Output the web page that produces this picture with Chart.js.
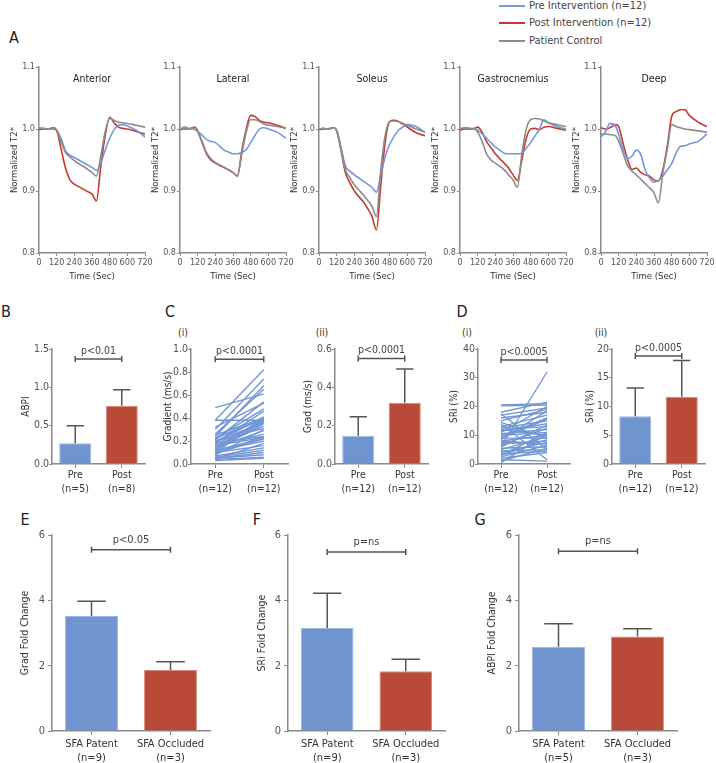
<!DOCTYPE html>
<html>
<head>
<meta charset="utf-8">
<script src="https://cdn.jsdelivr.net/npm/chart.js@4/dist/chart.umd.min.js"></script>
<style>
    body { margin: 0; width: 716px; height: 763px; background: #fff; position: relative; overflow: hidden;
           font-family: 'Liberation Sans Narrow', 'DejaVu Sans Condensed', 'Open Sans', sans-serif; color: #333; }
    canvas { position: absolute; }
    .tag { position: absolute; transform: translate(-50%, -50%); white-space: nowrap; line-height: 1; }
    .letter { font-size: 16px; color: #222; }
    .sub { font-size: 10.5px; color: #333; }
    .legend { position: absolute; left: 499px; font-size: 11px; color: #444; line-height: 1; white-space: nowrap; }
    .legend span { display: inline-block; width: 26px; height: 2px; vertical-align: middle; margin-right: 4px; }
</style>
</head>
<body>

<div class="legend" style="top:0px"><span style="background:#7398dc"></span>Pre Intervention (n=12)</div>
<div class="legend" style="top:17px"><span style="background:#c23b2e"></span>Post Intervention (n=12)</div>
<div class="legend" style="top:35px"><span style="background:#8c8c8c"></span>Patient Control</div>

<div class="tag letter" style="left:14px;top:38px">A</div>
<div class="tag letter" style="left:6px;top:312px">B</div>
<div class="tag letter" style="left:170px;top:312px">C</div>
<div class="tag letter" style="left:462px;top:312px">D</div>
<div class="tag letter" style="left:25px;top:520px">E</div>
<div class="tag letter" style="left:257px;top:520px">F</div>
<div class="tag letter" style="left:480px;top:520px">G</div>
<div class="tag sub" style="left:183px;top:332px">(i)</div>
<div class="tag sub" style="left:322px;top:332px">(ii)</div>
<div class="tag sub" style="left:467px;top:332px">(i)</div>
<div class="tag sub" style="left:601px;top:332px">(ii)</div>

<script>
const FONT = "'Liberation Sans Narrow', 'DejaVu Sans Condensed', 'Open Sans', sans-serif";

// ---- Panel A: normalized T2* time courses ----
const times = [0, 30, 60, 100, 120, 150, 180, 210, 240, 270, 300, 330, 360, 390, 420, 450, 480, 510, 540, 570, 600, 660, 720];
const muscles = ['Anterior', 'Lateral', 'Soleus', 'Gastrocnemius', 'Deep'];

const anteriorPre = [1.001, 1.001, 1.0, 1.0, 0.998, 0.985, 0.965, 0.958, 0.954, 0.950, 0.946, 0.942, 0.938, 0.933, 0.945, 0.966, 0.985, 0.999, 1.006, 1.007, 1.005, 0.998, 0.987];
const anteriorPost = [0.999, 1.0, 1.0, 1.002, 0.998, 0.968, 0.937, 0.918, 0.911, 0.907, 0.903, 0.899, 0.895, 0.884, 0.940, 0.990, 1.019, 1.010, 1.003, 1.001, 1.0, 0.996, 0.992];
const anteriorControl = [1.001, 1.001, 1.0, 1.0, 0.997, 0.980, 0.962, 0.955, 0.949, 0.944, 0.940, 0.935, 0.930, 0.924, 0.957, 0.996, 1.017, 1.014, 1.011, 1.010, 1.009, 1.006, 1.003];

const lateralPre = [1.0, 1.003, 1.001, 0.999, 0.996, 0.990, 0.983, 0.980, 0.978, 0.972, 0.966, 0.963, 0.960, 0.960, 0.962, 0.967, 0.978, 0.990, 1.0, 1.002, 1.0, 0.995, 0.985];
const lateralPost = [0.999, 1.0, 1.0, 1.003, 0.997, 0.978, 0.960, 0.950, 0.945, 0.941, 0.938, 0.934, 0.930, 0.924, 0.965, 1.0, 1.022, 1.020, 1.014, 1.011, 1.010, 1.006, 1.001];
const lateralControl = [1.0, 1.0, 1.0, 1.002, 0.996, 0.980, 0.962, 0.952, 0.946, 0.942, 0.938, 0.934, 0.930, 0.924, 0.960, 0.995, 1.015, 1.015, 1.012, 1.008, 1.006, 1.004, 1.001];

const soleusPre = [1.0, 1.001, 1.0, 1.002, 0.998, 0.970, 0.940, 0.932, 0.926, 0.921, 0.916, 0.911, 0.906, 0.898, 0.926, 0.956, 0.975, 0.988, 0.998, 1.003, 1.007, 1.004, 0.994];
const soleusPost = [0.999, 1.0, 1.0, 1.002, 0.997, 0.965, 0.929, 0.913, 0.900, 0.891, 0.883, 0.872, 0.859, 0.837, 0.910, 0.980, 1.012, 1.014, 1.012, 1.008, 1.003, 0.994, 0.989];
const soleusControl = [1.0, 1.001, 1.0, 1.002, 0.998, 0.968, 0.934, 0.921, 0.910, 0.902, 0.894, 0.885, 0.875, 0.859, 0.935, 0.990, 1.012, 1.013, 1.012, 1.009, 1.006, 1.0, 0.995];

const gastrocPre = [1.0, 1.002, 1.001, 1.0, 0.998, 0.992, 0.985, 0.978, 0.971, 0.966, 0.961, 0.960, 0.960, 0.960, 0.961, 0.969, 0.978, 0.989, 1.0, 1.015, 1.010, 1.004, 1.0];
const gastrocPost = [0.998, 1.0, 1.0, 1.001, 1.003, 0.995, 0.980, 0.970, 0.960, 0.952, 0.945, 0.937, 0.926, 0.917, 0.950, 0.985, 1.0, 1.001, 0.999, 1.003, 1.004, 1.001, 0.998];
const gastrocControl = [1.0, 1.002, 1.001, 1.0, 0.995, 0.980, 0.960, 0.950, 0.945, 0.940, 0.934, 0.926, 0.918, 0.906, 0.960, 1.0, 1.015, 1.017, 1.016, 1.013, 1.010, 1.007, 1.004];

const deepPre = [0.987, 0.995, 1.009, 1.004, 0.991, 0.968, 0.952, 0.956, 0.966, 0.959, 0.934, 0.921, 0.914, 0.917, 0.924, 0.934, 0.944, 0.961, 0.972, 0.973, 0.976, 0.980, 0.992];
const deepPost = [1.002, 1.0, 1.002, 1.007, 1.004, 0.977, 0.951, 0.935, 0.937, 0.930, 0.926, 0.924, 0.918, 0.916, 0.934, 0.972, 1.020, 1.028, 1.031, 1.031, 1.022, 1.011, 1.004];
const deepControl = [0.992, 0.992, 0.991, 0.989, 0.980, 0.961, 0.941, 0.932, 0.926, 0.919, 0.912, 0.905, 0.897, 0.881, 0.929, 0.967, 1.007, 1.004, 1.002, 1.0, 0.999, 0.997, 0.995];

// ---- Panels B-D ----
const prePostLabels5 = [['Pre', '(n=5)'], ['Post', '(n=8)']];
const prePostLabels12 = [['Pre', '(n=12)'], ['Post', '(n=12)']];
const abpiMean = [0.27, 0.76];
const abpiUpper = [0.50, 0.97];
const gradMean = [0.148, 0.32];
const gradUpper = [0.247, 0.496];
const sriMean = [8.3, 11.7];
const sriUpper = [13.2, 18.0];

const gradientPre = [0.49, 0.38, 0.38, 0.32, 0.30, 0.26, 0.25, 0.24, 0.23, 0.22, 0.21, 0.20, 0.19, 0.18, 0.17, 0.16, 0.15, 0.15, 0.14, 0.13, 0.12, 0.12, 0.11, 0.10, 0.10, 0.09, 0.08, 0.07, 0.06, 0.05, 0.05, 0.04, 0.04, 0.03, 0.18, 0.22, 0.13, 0.09, 0.16, 0.20];
const gradientPost = [0.61, 0.38, 0.82, 0.53, 0.74, 0.65, 0.40, 0.68, 0.39, 0.48, 0.54, 0.36, 0.41, 0.24, 0.37, 0.23, 0.33, 0.38, 0.29, 0.40, 0.22, 0.35, 0.20, 0.39, 0.16, 0.24, 0.30, 0.14, 0.12, 0.10, 0.08, 0.06, 0.18, 0.05, 0.46, 0.39, 0.36, 0.22, 0.26, 0.31];
const sriPre = [20.5, 20.2, 18.0, 17.5, 16.0, 15.0, 14.0, 13.0, 12.5, 12.0, 11.5, 11.0, 10.5, 10.0, 9.5, 9.0, 8.5, 8.0, 7.5, 7.0, 6.5, 6.0, 5.5, 5.0, 4.5, 4.0, 3.5, 3.0, 2.5, 2.0, 1.5, 1.0, 0.5, 12.0, 9.0, 6.0, 14.5, 17.0, 3.0, 8.0];
const sriPost = [21.0, 20.5, 21.5, 5.0, 18.0, 19.0, 1.5, 17.0, 15.0, 13.0, 14.0, 20.0, 12.0, 11.0, 16.0, 9.0, 18.5, 10.0, 7.0, 8.0, 12.5, 32.0, 6.0, 9.5, 5.0, 7.5, 4.5, 8.5, 6.5, 4.0, 1.0, 5.5, 10.5, 10.0, 15.5, 13.5, 9.0, 19.5, 11.0, 7.0];

// ---- Panels E-G ----
const sfaLabels9 = [['SFA Patent', '(n=9)'], ['SFA Occluded', '(n=3)']];
const sfaLabels5 = [['SFA Patent', '(n=5)'], ['SFA Occluded', '(n=3)']];
const gradFold = [3.52, 1.87];
const gradFoldUpper = [3.97, 2.12];
const sriFold = [3.15, 1.83];
const sriFoldUpper = [4.22, 2.20];
const abpiFold = [2.58, 2.89];
const abpiFoldUpper = [3.28, 3.13];

const blueLine = '#7398dc';
const redLine = '#c23b2e';
const grayLine = '#8c8c8c';
const blueBar = '#7094d0';
const redBar = '#b94a38';
const axisColor = '#8a8a8a';
const whiskerColor = '#555';

Chart.defaults.font.family = FONT;
Chart.defaults.color = '#555';

const innerTitlePlugin = {
    id: 'innerTitle',
    afterDraw(chart, args, opts) {
        const a = chart.chartArea;
        const ctx = chart.ctx;
        ctx.save();
        ctx.font = '10.5px ' + FONT;
        ctx.fillStyle = '#222';
        ctx.textAlign = 'center';
        ctx.textBaseline = 'middle';
        ctx.fillText(opts.text, (a.left + a.right) / 2, a.top + 12);
        ctx.restore();
    }
};

const errorBarPlugin = {
    id: 'errorBars',
    afterDatasetsDraw(chart, args, opts) {
        const ctx = chart.ctx;
        const yScale = chart.scales.y;
        ctx.save();
        ctx.strokeStyle = whiskerColor;
        ctx.lineWidth = 1.5;
        chart.getDatasetMeta(0).data.forEach(function(bar, i) {
            const yTop = yScale.getPixelForValue(opts.upper[i]);
            const half = bar.width * 0.27;
            ctx.beginPath();
            ctx.moveTo(bar.x, bar.y);
            ctx.lineTo(bar.x, yTop);
            ctx.moveTo(bar.x - half, yTop);
            ctx.lineTo(bar.x + half, yTop);
            ctx.stroke();
        });
        ctx.restore();
    }
};

const bracketPlugin = {
    id: 'bracket',
    afterDraw(chart, args, opts) {
        const ctx = chart.ctx;
        const x0 = chart.scales.x.getPixelForValue(0);
        const x1 = chart.scales.x.getPixelForValue(1);
        const y = chart.scales.y.getPixelForValue(opts.value);
        ctx.save();
        ctx.strokeStyle = whiskerColor;
        ctx.lineWidth = 1.5;
        ctx.beginPath();
        ctx.moveTo(x0, y);
        ctx.lineTo(x1, y);
        ctx.moveTo(x0, y - 3);
        ctx.lineTo(x0, y + 3);
        ctx.moveTo(x1, y - 3);
        ctx.lineTo(x1, y + 3);
        ctx.stroke();
        ctx.font = opts.size + 'px ' + FONT;
        ctx.fillStyle = '#444';
        ctx.textAlign = 'center';
        ctx.textBaseline = 'middle';
        ctx.fillText(opts.text, (x0 + x1) / 2, y - opts.gap);
        ctx.restore();
    }
};

function makeCanvas(box) {
    const c = document.createElement('canvas');
    const w = box.yW + (box.right - box.left) + box.padRight;
    const h = box.padTop + (box.bottom - box.top) + box.xH;
    c.width = w;
    c.height = h;
    c.style.left = (box.left - box.yW) + 'px';
    c.style.top = (box.top - box.padTop) + 'px';
    document.body.appendChild(c);
    return c;
}

function axisStyle(size, tickLen, pad) {
    return {
        ticks: { font: { size: size }, color: '#555', padding: pad, maxRotation: 0, autoSkip: false },
        grid: { display: true, drawOnChartArea: false, tickLength: tickLen, tickColor: axisColor, tickWidth: 1, offset: false },
        border: { display: true, color: axisColor, width: 1.5 }
    };
}

function toPoints(values) {
    return values.map(function(v, i) { return { x: times[i], y: v }; });
}

function createCurveChart(index, pre, post, control) {
    const left = [39, 180, 319, 460, 601][index];
    const box = { left: left, right: left + 106, top: 67, bottom: 253, yW: 30, xH: 29, padTop: 7, padRight: 12 };
    const canvas = makeCanvas(box);
    const x = axisStyle(9, 3, 1);
    x.type = 'linear';
    x.min = 0;
    x.max = 720;
    x.ticks.stepSize = 120;
    x.title = { display: true, text: 'Time (Sec)', font: { size: 9.5 }, color: '#333', padding: 0 };
    x.afterFit = function(s) { s.height = box.xH; };
    const y = axisStyle(9, 3, 1);
    y.min = 0.8;
    y.max = 1.1;
    y.ticks.stepSize = 0.1;
    y.ticks.callback = function(v) { return v.toFixed(1); };
    y.title = { display: true, text: 'Normalized T2*', font: { size: 9.5 }, color: '#333', padding: 0 };
    y.afterFit = function(s) { s.width = box.yW; };

    new Chart(canvas, {
        type: 'line',
        data: {
            datasets: [
                { data: toPoints(control), borderColor: grayLine },
                { data: toPoints(pre), borderColor: blueLine },
                { data: toPoints(post), borderColor: redLine }
            ]
        },
        options: {
            responsive: false,
            animation: false,
            layout: { padding: { top: box.padTop, right: box.padRight, left: 0, bottom: 0 } },
            elements: { point: { radius: 0 }, line: { borderWidth: 1.6, cubicInterpolationMode: 'monotone' } },
            plugins: { legend: { display: false }, tooltip: { enabled: false }, innerTitle: { text: muscles[index] } },
            scales: { x: x, y: y }
        },
        plugins: [innerTitlePlugin]
    });
}

function buildScales(box, labels, yMin, yMax, step, decimals, title, size) {
    const big = size > 10.5;
    const x = axisStyle(size, 4, big ? 3 : 0);
    x.type = 'category';
    x.labels = labels;
    x.offset = true;
    x.ticks.color = '#333';
    x.ticks.font = { size: size, lineHeight: big ? 1.2 : 1.35 };
    x.afterFit = function(s) { s.height = box.xH; };
    const y = axisStyle(size, big ? 4 : 3, big ? 3 : 0);
    y.min = yMin;
    y.max = yMax;
    y.ticks.stepSize = step;
    y.ticks.callback = function(v) { return v.toFixed(decimals); };
    y.title = { display: true, text: title, font: { size: size - 0.5 }, color: '#333', padding: 0 };
    y.afterFit = function(s) { s.width = box.yW; };
    return { x: x, y: y };
}

function createBarChart(box, labels, means, upper, yMax, step, decimals, title, pText, pValue, size) {
    const canvas = makeCanvas(box);
    new Chart(canvas, {
        type: 'bar',
        data: {
            labels: labels,
            datasets: [{
                data: means,
                backgroundColor: [blueBar, redBar],
                borderColor: ['#9db5e2', '#d3897c'],
                borderWidth: 1,
                barPercentage: box.barPct,
                categoryPercentage: 1
            }]
        },
        options: {
            responsive: false,
            animation: false,
            layout: { padding: { top: box.padTop, right: box.padRight, left: 0, bottom: 0 } },
            plugins: {
                legend: { display: false },
                tooltip: { enabled: false },
                errorBars: { upper: upper },
                bracket: { text: pText, value: pValue, gap: size > 10.5 ? 10 : 8, size: size }
            },
            scales: buildScales(box, labels, 0, yMax, step, decimals, title, size)
        },
        plugins: [errorBarPlugin, bracketPlugin]
    });
}

function createPairedChart(box, labels, pre, post, yMax, step, decimals, title, pText, pValue) {
    const canvas = makeCanvas(box);
    const datasets = pre.map(function(v, i) {
        return { data: [v, post[i]], borderColor: '#7196d6', borderWidth: 1.4, pointRadius: 0 };
    });
    new Chart(canvas, {
        type: 'line',
        data: { labels: labels, datasets: datasets },
        options: {
            responsive: false,
            animation: false,
            layout: { padding: { top: box.padTop, right: box.padRight, left: 0, bottom: 0 } },
            plugins: {
                legend: { display: false },
                tooltip: { enabled: false },
                bracket: { text: pText, value: pValue, gap: 8, size: 10.5 }
            },
            scales: buildScales(box, labels, 0, yMax, step, decimals, title, 10.5)
        },
        plugins: [bracketPlugin]
    });
}

createCurveChart(0, anteriorPre, anteriorPost, anteriorControl);
createCurveChart(1, lateralPre, lateralPost, lateralControl);
createCurveChart(2, soleusPre, soleusPost, soleusControl);
createCurveChart(3, gastrocPre, gastrocPost, gastrocControl);
createCurveChart(4, deepPre, deepPost, deepControl);

const midRow = { top: 349, bottom: 464, xH: 34, padTop: 14, padRight: 6, barPct: 0.69 };
createBarChart(Object.assign({}, midRow, { left: 52, right: 145, yW: 32 }), prePostLabels5, abpiMean, abpiUpper, 1.5, 0.5, 1, 'ABPI', 'p<0.01', 1.37, 10.5);
createPairedChart(Object.assign({}, midRow, { left: 191, right: 288, yW: 29 }), prePostLabels12, gradientPre, gradientPost, 1.0, 0.2, 1, 'Gradient (ms/s)', 'p<0.0001', 0.91);
createBarChart(Object.assign({}, midRow, { left: 335, right: 428, yW: 33 }), prePostLabels12, gradMean, gradUpper, 0.6, 0.2, 1, 'Grad (ms/s)', 'p<0.0001', 0.55, 10.5);
createPairedChart(Object.assign({}, midRow, { left: 478, right: 570, yW: 30 }), prePostLabels12, sriPre, sriPost, 40, 10, 0, 'SRi (%)', 'p<0.0005', 36.2);
createBarChart(Object.assign({}, midRow, { left: 612, right: 705, yW: 28 }), prePostLabels12, sriMean, sriUpper, 20, 5, 0, 'SRi (%)', 'p<0.0005', 18.8, 10.5);

const lowRow = { top: 535, bottom: 731, xH: 32, padTop: 14, padRight: 8, barPct: 0.67 };
createBarChart(Object.assign({}, lowRow, { left: 52, right: 210, yW: 33 }), sfaLabels9, gradFold, gradFoldUpper, 6, 2, 0, 'Grad Fold Change', 'p<0.05', 5.55, 11);
createBarChart(Object.assign({}, lowRow, { left: 288, right: 445, yW: 32 }), sfaLabels9, sriFold, sriFoldUpper, 6, 2, 0, 'SRi Fold Change', 'p=ns', 5.48, 11);
createBarChart(Object.assign({}, lowRow, { left: 519, right: 677, yW: 33 }), sfaLabels5, abpiFold, abpiFoldUpper, 6, 2, 0, 'ABPI Fold Change', 'p=ns', 5.5, 11);
</script>
</body>
</html>
